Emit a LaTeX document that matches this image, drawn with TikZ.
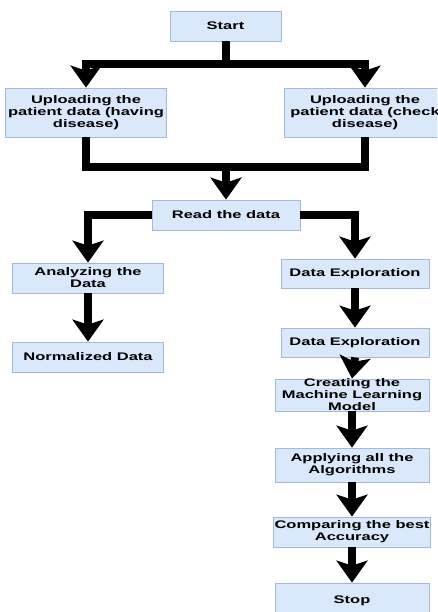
\documentclass[tikz,border=0pt]{standalone}
\usepackage{fontspec}
\usepackage{tikz}
\usetikzlibrary{arrows.meta}
\newfontfamily\boxfont[UprightFont={* Bold},FakeStretch=1.5]{Liberation Sans}
\definecolor{boxfill}{RGB}{218,232,252}
\definecolor{boxline}{RGB}{165,185,215}

\tikzset{
    stepbox/.style={draw=boxline,fill=boxfill,line width=0.8pt,align=center,
        inner sep=1pt,font=\boxfont\fontsize{11}{12}\selectfont},
    line/.style={line width=8pt},
    flow/.style={line width=8pt,-{Stealth[length=22pt,width=31pt,inset=5pt]}}
}

\begin{document}
\begin{tikzpicture}[x=1pt,y=-1pt]
    \useasboundingbox (0,0) rectangle (437,612);
    \clip (0,0) rectangle (437,612);
    % boxes
    \node[stepbox,minimum width=111pt,minimum height=30pt] (start) at (225.5,26) {Start};
    \node[stepbox,minimum width=161pt,minimum height=49pt] (up1) at (86,112.5) {Uploading the\\patient data (having\\disease)};
    \node[stepbox,minimum width=161pt,minimum height=49pt] (up2) at (365,112.5) {Uploading the\\patient data (check\\disease)};
    \node[stepbox,minimum width=148pt,minimum height=30pt] (read) at (226,215) {Read the data};
    \node[stepbox,minimum width=151pt,minimum height=30pt] (analyze) at (88,278) {Analyzing the\\Data};
    \node[stepbox,minimum width=151pt,minimum height=30pt] (norm) at (88,357) {Normalized Data};
    \node[stepbox,minimum width=148pt,minimum height=29pt] (explore1) at (355,273.5) {Data Exploration};
    \node[stepbox,minimum width=148pt,minimum height=29pt] (explore2) at (355,342.5) {Data Exploration};
    \node[stepbox,minimum width=154pt,minimum height=29pt,inner ysep=0pt] (model) at (352,395) {Creating the\\Machine Learning\\Model};
    \node[stepbox,minimum width=154pt,minimum height=34pt] (apply) at (352,465) {Applying all the\\Algorithms};
    \node[stepbox,minimum width=154pt,minimum height=30pt] (compare) at (352,532) {Comparing the best\\Accuracy};
    \node[stepbox,minimum width=154pt,minimum height=36pt] (stop) at (352,601) {Stop};
    % connectors
    \coordinate (split) at (225.5,64);
    \coordinate (merge) at (226,167);
    \draw[line] (start.south) -- (split);
    \draw[flow] (split) -| (up1.north);
    \draw[flow] (split) -| (up2.north);
    \draw[line] (up1.south) |- (merge);
    \draw[line] (up2.south) |- (merge);
    \draw[flow] (merge) -- (read.north);
    \draw[flow] (read.west) -| (analyze.north);
    \draw[flow] (read.east) -| (explore1.north);
    \draw[flow] (analyze.south) -- (norm.north);
    \draw[flow] (explore1.south) -- (explore2.north);
    \draw[flow] (explore2.south) -- (model.north);
    \draw[flow] (model.south) -- (apply.north);
    \draw[flow] (apply.south) -- (compare.north);
    \draw[flow] (compare.south) -- (stop.north);
\end{tikzpicture}
\end{document}
